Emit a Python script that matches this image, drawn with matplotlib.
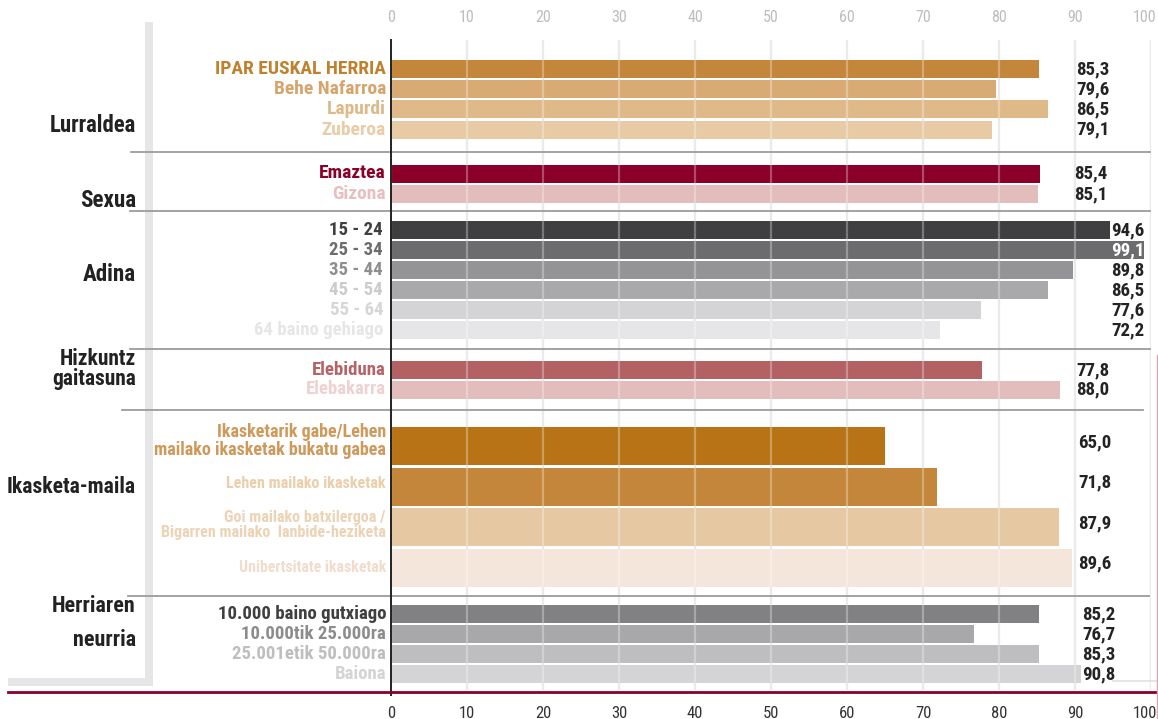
import matplotlib
matplotlib.use("Agg")
import matplotlib.pyplot as plt
from matplotlib import font_manager as fm
from matplotlib.patches import Rectangle

_installed = {f.name for f in fm.fontManager.ttflist}
COND = "Roboto Condensed" if "Roboto Condensed" in _installed else "Liberation Sans"

# ---- data -------------------------------------------------------------
lurraldea_labels = ["IPAR EUSKAL HERRIA", "Behe Nafarroa", "Lapurdi", "Zuberoa"]
lurraldea_values = [85.3, 79.6, 86.5, 79.1]

sexua_labels = ["Emaztea", "Gizona"]
sexua_values = [85.4, 85.1]

adina_labels = ["15 - 24", "25 - 34", "35 - 44", "45 - 54", "55 - 64", "64 baino gehiago"]
adina_values = [94.6, 99.1, 89.8, 86.5, 77.6, 72.2]

hizkuntza_labels = ["Elebiduna", "Elebakarra"]
hizkuntza_values = [77.8, 88.0]

ikasketa_labels = ["Ikasketarik gabe/Lehen\nmailako ikasketak bukatu gabea",
                   "Lehen mailako ikasketak",
                   "Goi mailako batxilergoa /\nBigarren mailako  lanbide-heziketa",
                   "Unibertsitate ikasketak"]
ikasketa_values = [65.0, 71.8, 87.9, 89.6]

herria_labels = ["10.000 baino gutxiago", "10.000tik 25.000ra", "25.001etik 50.000ra", "Baiona"]
herria_values = [85.2, 76.7, 85.3, 90.8]

x_ticks = [0, 10, 20, 30, 40, 50, 60, 70, 80, 90, 100]

# ---- figure in pixel units (1158 x 719) --------------------------------
W, H = 1158, 719
X0, X1 = 391, 1151          # pixel span of the 0..100 scale
fig = plt.figure(figsize=(W / 100, H / 100), dpi=100)
fig.patch.set_facecolor("white")
ax = fig.add_axes([X0 / W, 0, (X1 - X0) / W, 1])
ax.set_xlim(0, 100)
ax.set_ylim(H, 0)
ax.axis("off")


def px(x):
    """Pixel column -> data x."""
    return (x - X0) * 100.0 / (X1 - X0)


# title entries: (text, y, vertical alignment)
groups = [
    dict(title=[("Lurraldea", 132, "baseline")], tsize=16.4, labels=lurraldea_labels,
         values=lurraldea_values, first=69, step=20.2, h=18, vx=1076, lx=386,
         lsize=[14, 14, 14, 14],
         bars=["#C4863A", "#D9AB74", "#E0B988", "#E8CBA5"],
         text=["#C0812E", "#D6A46C", "#E0B98A", "#E9CCA8"]),
    dict(title=[("Sexua", 207, "baseline")], tsize=16.6, labels=sexua_labels,
         values=sexua_values, first=173.5, step=20.5, h=18, vx=1074, lx=386,
         lsize=[14, 14],
         bars=["#8A0029", "#E2BDBB"], text=["#8A0029", "#E4C0BE"]),
    dict(title=[("Adina", 281, "baseline")], tsize=16.6, labels=adina_labels,
         values=adina_values, first=230, step=20.0, h=18, vx=None, lx=383,
         lsize=[13.5] * 6,
         bars=["#3F3F41", "#6C6C6E", "#949497", "#A9A9AB", "#D4D4D6", "#E6E6E8"],
         text=["#3F3F41", "#6C6C6E", "#8E8E91", "#CBCBCD", "#D6D6D8", "#E6E6E8"]),
    dict(title=[("Hizkuntz\ngaitasuna", 369, "center")], tsize=15.5,
         labels=hizkuntza_labels, values=hizkuntza_values, first=370, step=19.5, h=18,
         vx=1076, lx=386, lsize=[13.5, 13.5],
         bars=["#B36163", "#E2BDBB"], text=["#B56366", "#EDD2D1"]),
    dict(title=[("Ikasketa-maila", 493, "baseline")], tsize=15.6, labels=ikasketa_labels,
         values=ikasketa_values, first=446, step=40.5, h=38, vx=1078, lx=386,
         lsize=[13, 11.6, 11.6, 11.4], ldy=[-5, -3, -2, 0], vdy=-4,
         bars=["#B87316", "#C4863A", "#E6C9A3", "#F4E6DA"],
         text=["#CE995A", "#EBCEAA", "#EDD3B6", "#F0DDCB"]),
    dict(title=[("Herriaren", 612, "baseline"), ("neurria", 646, "baseline")], tsize=15.8,
         labels=herria_labels, values=herria_values, first=614, step=20.0, h=18,
         vx=1082, lx=386, lsize=[13.5] * 4,
         bars=["#818183", "#A8A8AA", "#BEBEC0", "#D4D4D6"],
         text=["#3F3F41", "#8C8C8E", "#BEBEC0", "#D4D4D6"]),
]

# left bracket
ax.add_patch(Rectangle((px(145), 22), px(153) - px(145), 664, facecolor="#E6E6E8",
                       edgecolor="none", clip_on=False, zorder=0))
ax.add_patch(Rectangle((px(8), 678), px(153) - px(8), 8, facecolor="#E6E6E8",
                       edgecolor="none", clip_on=False, zorder=0))

# gridlines
ax.vlines(x_ticks, 40, 690, color="#E2E2E2", lw=1.6, zorder=1)
ax.vlines(x_ticks, 40, 690, color="white", lw=1.6, alpha=0.3, zorder=3)

for g in groups:
    ldy = g.get("ldy", [0] * len(g["labels"]))
    for i, (lab, val) in enumerate(zip(g["labels"], g["values"])):
        yc = g["first"] + i * g["step"]
        ax.barh(yc, val, height=g["h"], left=0, color=g["bars"][i], zorder=2)
        ax.text(px(g["lx"]), yc + ldy[i], lab, ha="right", va="center", ma="right",
                fontsize=g["lsize"][i], fontweight="bold", family=COND,
                color=g["text"][i], linespacing=0.95, clip_on=False, zorder=5)
        vy = yc + g.get("vdy", 0)
        txt = f"{val:.1f}".replace(".", ",")
        if g["vx"] is None:
            ax.text(px(1144), vy, txt, ha="right", va="center", fontsize=13.6,
                    fontweight="bold", family=COND,
                    color="white" if val > 97 else "#232323", clip_on=False, zorder=5)
        else:
            ax.text(px(g["vx"]), vy, txt, ha="left", va="center", fontsize=13.6,
                    fontweight="bold", family=COND, color="#232323",
                    clip_on=False, zorder=5)
    for line, ypos, va in g["title"]:
        ax.text(px(136), ypos, line, ha="right", va=va, ma="right", fontsize=g["tsize"],
                fontweight="bold", family=COND, color="#222222", linespacing=0.92,
                clip_on=False, zorder=5)

# group separators
separators = [(152, 131, 1150), (211, 130, 1150), (349, 130, 1150),
              (410, 122, 1143), (596, 128, 1149)]
for y, xa, xb in separators:
    ax.plot([px(xa), px(xb)], [y, y], color="#9C9C9C", lw=1.3, clip_on=False, zorder=4)
ax.plot([px(1113), px(1158)], [681, 681], color="#E0E0E0", lw=1.2, clip_on=False, zorder=4)

# value axis line and bottom rule
ax.plot([0, 0], [40, 695], color="#222222", lw=1.4, clip_on=False, zorder=6)
ax.plot([px(8), px(1158)], [692, 692], color="#8A0029", lw=2.0, clip_on=False, zorder=6)
ax.plot([px(1157), px(1157)], [355, 719], color="#D9A5B5", lw=1.0, clip_on=False, zorder=6)

# tick labels on both edges
for t in x_ticks:
    xt = px(1145) if t == 100 else t
    ax.text(xt, 18, str(t), ha="center", va="center", fontsize=11.5, family=COND,
            color="#BDBDBD", clip_on=False)
    ax.text(xt, 713, str(t), ha="center", va="center", fontsize=12, family=COND,
            color="#333333", clip_on=False)

fig.savefig("out.png", dpi=100)
